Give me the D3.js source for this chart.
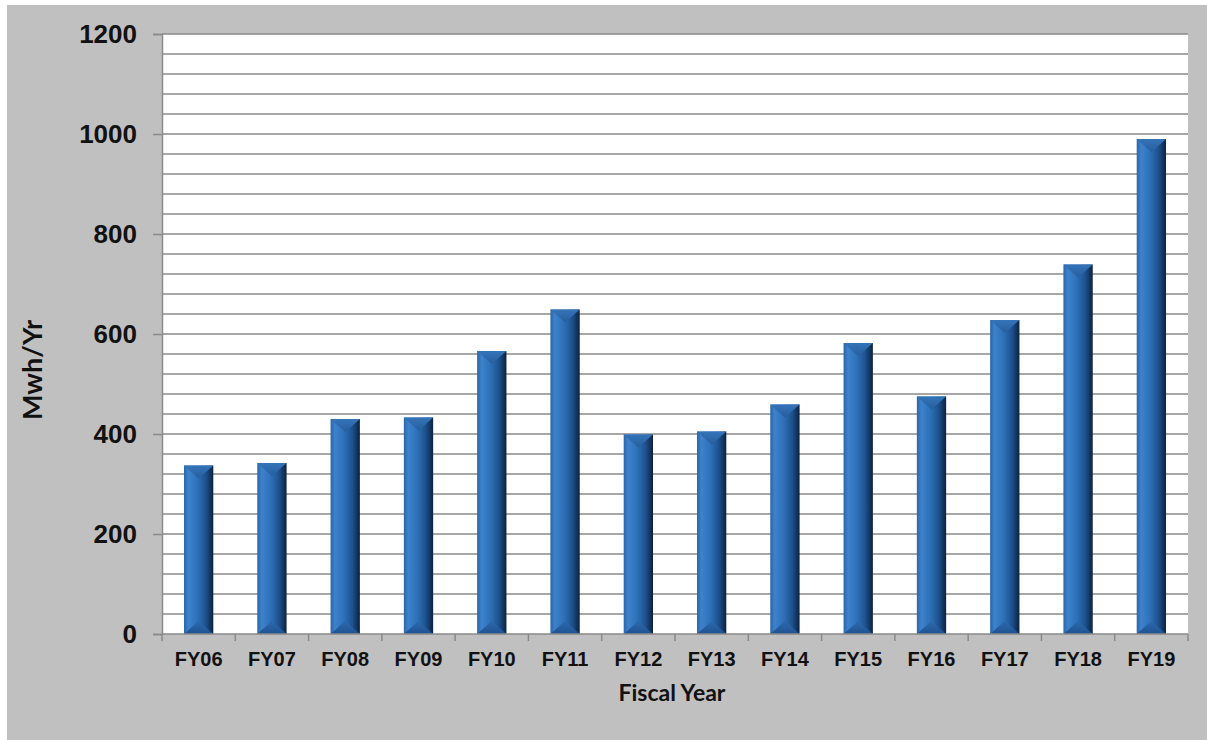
<!DOCTYPE html>
<meta charset="utf-8">
<head>
	<script src="https://cdn.jsdelivr.net/npm/d3@7"></script>
	<style>
		body { margin: 0; background: #fff; }
		#chart svg { display: block; }
		.axis text { font-family: "Liberation Sans", Arial, sans-serif; font-weight: bold; fill: #111; }
		.title { font-family: Lato, "Open Sans", sans-serif; font-weight: bold; fill: #111; }
	</style>
</head>
<body>
	<div id="chart"></div>
</body>
<script type="text/javascript">
	var years = ["FY06", "FY07", "FY08", "FY09", "FY10", "FY11", "FY12", "FY13", "FY14", "FY15", "FY16", "FY17", "FY18", "FY19"];
	var mwh = [337, 342, 430, 433, 566, 649, 399, 405, 459, 582, 475, 628, 739, 990];
	var yTicks = [0, 200, 400, 600, 800, 1000, 1200];

	var W = 1207, H = 740;
	var margin = {top: 34, right: 19, bottom: 106, left: 162},
		width = W - margin.left - margin.right,
		height = H - margin.top - margin.bottom;

	var svg = d3.select("#chart").append("svg")
		.attr("width", W)
		.attr("height", H);

	var defs = svg.append("defs");
	var grad = defs.append("linearGradient").attr("id", "barGrad")
		.attr("x1", 0).attr("x2", 1).attr("y1", 0).attr("y2", 0);
	grad.append("stop").attr("offset", "0%").attr("stop-color", "#2a65aa");
	grad.append("stop").attr("offset", "15%").attr("stop-color", "#3d82cb");
	grad.append("stop").attr("offset", "45%").attr("stop-color", "#2e71b9");
	grad.append("stop").attr("offset", "75%").attr("stop-color", "#1d508c");
	grad.append("stop").attr("offset", "100%").attr("stop-color", "#0c223f");

	var capGrad = defs.append("linearGradient").attr("id", "capGrad")
		.attr("x1", 0).attr("x2", 0).attr("y1", 0).attr("y2", 1);
	capGrad.append("stop").attr("offset", "0%").attr("stop-color", "#3574b9");
	capGrad.append("stop").attr("offset", "100%").attr("stop-color", "#265e9e");

	var footGrad = defs.append("linearGradient").attr("id", "footGrad")
		.attr("x1", 0).attr("x2", 0).attr("y1", 0).attr("y2", 1);
	footGrad.append("stop").attr("offset", "0%").attr("stop-color", "#2e6aad");
	footGrad.append("stop").attr("offset", "100%").attr("stop-color", "#1f5292");

	// grey backdrop
	svg.append("rect")
		.attr("x", 7).attr("y", 5)
		.attr("width", W - 7).attr("height", H - 5)
		.style("fill", "#c0c0c0");

	var g = svg.append("g")
		.attr("transform", "translate(" + margin.left + "," + margin.top + ")");

	var x = d3.scaleBand()
		.domain(years)
		.range([0, width])
		.paddingInner(0.6)
		.paddingOuter(0.3);

	var y = d3.scaleLinear()
		.domain([0, 1200])
		.range([height, 0]);

	g.append("rect")
		.attr("width", width)
		.attr("height", height)
		.style("fill", "#fff");

	// gridlines every 40
	g.append("g")
		.selectAll("line")
		.data(d3.range(40, 1201, 40))
		.enter().append("line")
		.attr("x1", 0).attr("x2", width)
		.attr("y1", function(d) { return y(d); })
		.attr("y2", function(d) { return y(d); })
		.style("stroke", "#8a8a8a")
		.style("stroke-width", 1.5);

	// bars
	var bars = g.append("g").selectAll("g")
		.data(years)
		.enter().append("g");

	bars.append("rect")
		.attr("x", function(d) { return x(d); })
		.attr("y", function(d, i) { return y(mwh[i]); })
		.attr("width", x.bandwidth())
		.attr("height", function(d, i) { return height - y(mwh[i]); })
		.style("fill", "url(#barGrad)");

	var bev = 13;
	bars.append("path")
		.attr("d", function(d, i) {
			var x0 = x(d), x1 = x0 + x.bandwidth(), xm = x0 + x.bandwidth() / 2, y0 = y(mwh[i]);
			return "M" + x0 + "," + y0 + "L" + x1 + "," + y0 + "L" + xm + "," + (y0 + bev) + "Z";
		})
		.style("fill", "url(#capGrad)");

	bars.append("path")
		.attr("d", function(d) {
			var x0 = x(d), x1 = x0 + x.bandwidth(), xm = x0 + x.bandwidth() / 2, y0 = height;
			return "M" + x0 + "," + y0 + "L" + x1 + "," + y0 + "L" + xm + "," + (y0 - bev) + "Z";
		})
		.style("fill", "url(#footGrad)");

	// axes
	var yAxis = d3.axisLeft(y).tickValues(yTicks).tickSize(9).tickPadding(16).tickFormat(d3.format("d"));
	var yg = g.append("g").attr("class", "axis").call(yAxis);
	yg.selectAll("text").style("font-size", "26px");

	var xAxis = d3.axisBottom(x).tickSize(0).tickPadding(18);
	var xg = g.append("g").attr("class", "axis")
		.attr("transform", "translate(0," + height + ")")
		.call(xAxis);
	xg.selectAll("text").style("font-size", "20px");

	// category separators on x axis
	xg.selectAll(".sep")
		.data(d3.range(years.length + 1))
		.enter().append("line")
		.attr("class", "sep")
		.attr("x1", function(d) { return d * x.step(); })
		.attr("x2", function(d) { return d * x.step(); })
		.attr("y1", 0).attr("y2", 7)
		.style("stroke", "#8a8a8a")
		.style("stroke-width", 1.5);

	g.selectAll(".axis path, .axis line").style("stroke", "#8a8a8a").style("stroke-width", 1.5);
	xg.select("path").attr("d", "M0,0H" + width);

	svg.append("text")
		.attr("class", "title")
		.attr("transform", "translate(42,370)rotate(-90)")
		.style("text-anchor", "middle")
		.style("font-size", "27px")
		.text("Mwh/Yr");

	svg.append("text")
		.attr("class", "title")
		.attr("x", margin.left + width / 2 - 3)
		.attr("y", 701)
		.style("text-anchor", "middle")
		.style("font-size", "23px")
		.text("Fiscal Year");
</script>
